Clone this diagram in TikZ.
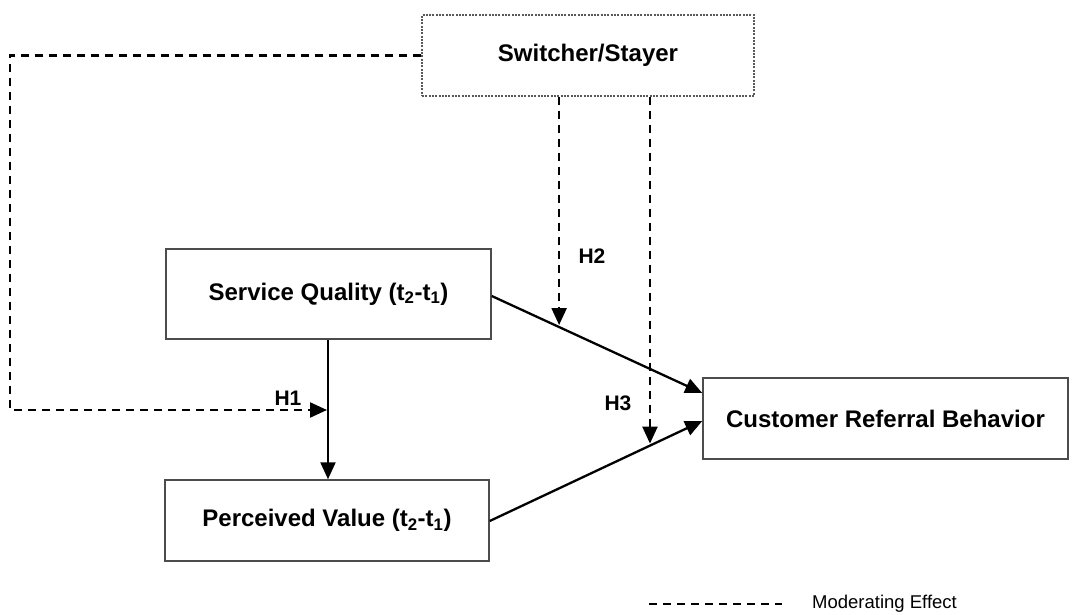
\documentclass[tikz,border=0pt]{standalone}
\usepackage{fontspec}
\setmainfont{Liberation Sans}
\usetikzlibrary{arrows.meta,calc}
\begin{document}
\begin{tikzpicture}[x=1pt,y=-1pt,
  box/.style={draw=black!70,line width=1.5pt,fill=white,inner sep=0pt,
    font=\fontsize{24}{28}\selectfont\bfseries},
  dotbox/.style={draw=black!65,line width=1.1pt,dash pattern=on 2pt off 1.3pt,
    fill=white,inner sep=0pt,font=\fontsize{24}{28}\selectfont\bfseries},
  path/.style={draw=black,line width=2.3pt,-{Triangle[length=17pt,width=15pt]}},
  mod/.style={draw=black,line width=2.3pt,dash pattern=on 8pt off 6pt},
  modarr/.style={mod,-{Triangle[length=17pt,width=15pt]}},
  hlab/.style={font=\fontsize{21}{25}\selectfont\bfseries,inner sep=0pt},
]
\useasboundingbox (0,0) rectangle (1074,615);

\node[dotbox,minimum width=332pt,minimum height=81pt] (SS) at (588,55.5) {Switcher/Stayer};
\node[box,minimum width=325pt,minimum height=90pt] (SQ) at (328.5,294) {Service Quality (t\textsubscript{2}-t\textsubscript{1})};
\node[box,minimum width=324pt,minimum height=81pt] (PV) at (327,520.5) {Perceived Value (t\textsubscript{2}-t\textsubscript{1})};
\node[box,minimum width=365pt,minimum height=81pt] (CRB) at (885.5,418.5) {Customer Referral Behavior};

% target points on CRB's left side
\coordinate (crbA) at (CRB.west |- 0,393);
\coordinate (crbB) at (CRB.west |- 0,421);

% main paths
\draw[path] (SQ.east |- 0,296) -- (crbA);
\draw[path] (PV.east |- 0,521) -- (crbB);
\draw[path] (SQ.south -| 328,0) -- (PV.north -| 328,0);

% moderating effects
\coordinate (m2) at ($(SQ.east |- 0,296)!0.32!(crbA)$);
\coordinate (m3) at ($(PV.east |- 0,521)!0.754!(crbB)$);
\coordinate (c1) at (10,55.5);
\coordinate (c2) at (10,410);
\coordinate (h1) at (327,410);
\draw[modarr] (SS.west) -- (c1) -- (c2) -- (h1);
\draw[modarr] (SS.south -| m2) -- ($(m2)+(0,-2)$);
\draw[modarr] (SS.south -| m3) -- ($(m3)+(0,-2)$);

% labels
\node[hlab] (H1) at (288,398) {H1};
\node[hlab] (H2) at (592,256) {H2};
\node[hlab] (H3) at (618,403) {H3};

% legend
\coordinate (l1) at (649,604);
\coordinate (l2) at (782,604);
\draw[mod] (l1) -- (l2);
\node[anchor=west,inner sep=0pt,font=\fontsize{18.5}{22}\selectfont] (leg) at (812,604) {Moderating Effect};
\end{tikzpicture}
\end{document}
